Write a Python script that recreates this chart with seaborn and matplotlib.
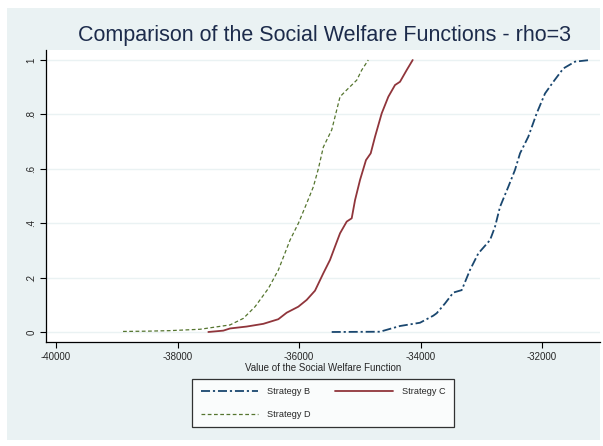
import matplotlib
matplotlib.use("Agg")
import matplotlib.pyplot as plt
import seaborn as sns
from matplotlib.patches import Rectangle

# empirical distribution of the social welfare function per strategy
strat_b_x = [-35462, -34667, -34338, -34064, -34009, -33790, -33734, -33597, -33460,
             -33322, -33186, -33049, -32856, -32774, -32692, -32555, -32445, -32362,
             -32226, -32088, -31951, -31814, -31649, -31457, -31210]
strat_b_y = [0.0, 0.001, 0.022, 0.032, 0.034, 0.060, 0.069, 0.105, 0.145,
             0.154, 0.228, 0.289, 0.338, 0.387, 0.46, 0.534, 0.596, 0.657,
             0.718, 0.804, 0.877, 0.92, 0.969, 0.994, 1.0]

strat_c_x = [-37493, -37246, -37136, -36862, -36588, -36341, -36203, -36012, -35874,
             -35737, -35600, -35490, -35408, -35325, -35215, -35133, -35078, -34996,
             -34898, -34820, -34749, -34639, -34530, -34420, -34338, -34228, -34129]
strat_c_y = [0.0, 0.005, 0.013, 0.02, 0.03, 0.047, 0.071, 0.093, 0.118,
             0.152, 0.216, 0.265, 0.314, 0.363, 0.406, 0.418, 0.485, 0.559,
             0.632, 0.657, 0.718, 0.804, 0.865, 0.908, 0.92, 0.963, 1.0]

strat_d_x = [-38897, -38500, -38124, -37630, -37136, -36917, -36724, -36505, -36340,
             -36148, -36010, -35874, -35764, -35682, -35600, -35462, -35380, -35325,
             -35215, -35050, -34968, -34860]
strat_d_y = [0.002, 0.003, 0.005, 0.01, 0.026, 0.05, 0.093, 0.16, 0.228,
             0.338, 0.40, 0.473, 0.534, 0.60, 0.68, 0.743, 0.816, 0.865,
             0.89, 0.926, 0.963, 1.0]

x_ticks = [-40000, -38000, -36000, -34000, -32000]
y_ticks = [0, 0.2, 0.4, 0.6, 0.8, 1.0]
y_ticklabels = ["0", ".2", ".4", ".6", ".8", "1"]

sns.set_style("white")
plt.rcParams["font.family"] = ["Liberation Sans", "DejaVu Sans"]

bg = "#eaf2f3"
fig = plt.figure(figsize=(6.03, 4.46), dpi=100)
fig.patches.append(Rectangle((7 / 603, 1 - 440 / 446), 593 / 603, 432 / 446,
                             transform=fig.transFigure, facecolor=bg, edgecolor="none", zorder=-10))
ax = fig.add_axes([46 / 603, 1 - 342 / 446, 554 / 603, 292 / 446])
ax.set_facecolor("white")

sns.lineplot(x=strat_b_x, y=strat_b_y, ax=ax, color="#1a476f", linewidth=1.3,
             estimator=None, sort=False, label="Strategy B",
             dashes=False, linestyle=(0, (5, 1.6, 1.2, 1.6)))
sns.lineplot(x=strat_c_x, y=strat_c_y, ax=ax, color="#90353b", linewidth=1.3,
             estimator=None, sort=False, label="Strategy C")
sns.lineplot(x=strat_d_x, y=strat_d_y, ax=ax, color="#55752f", linewidth=0.9,
             estimator=None, sort=False, label="Strategy D",
             linestyle=(0, (3, 2)))

ax.set_xlim(-40165, -31046)
ax.set_ylim(-0.0368, 1.0368)
ax.set_xticks(x_ticks)
ax.set_xticklabels([str(v) for v in x_ticks])
ax.set_yticks(y_ticks)
ax.set_yticklabels(y_ticklabels, rotation=90, va="center")
ax.tick_params(axis="both", direction="out", length=4, width=0.8, color="black",
               labelsize=7, pad=3, bottom=True, left=True)
ax.yaxis.grid(True, color=bg, linewidth=1)
ax.xaxis.grid(False)
for side in ["top", "right"]:
    ax.spines[side].set_visible(False)
for side in ["left", "bottom"]:
    ax.spines[side].set_color("black")
    ax.spines[side].set_linewidth(0.9)

ax.set_xlabel("Value of the Social Welfare Function", fontsize=7, labelpad=1)
ax.set_ylabel("")
fig.text(325 / 603, 1 - 36 / 446, "Comparison of the Social Welfare Functions - rho=3",
         ha="center", va="center", fontsize=15.5, color="#1c2b4b")

h, l = ax.get_legend_handles_labels()
order = [0, 2, 1]
leg = ax.legend([h[i] for i in order], [l[i] for i in order], ncol=2,
                loc="upper center", bbox_to_anchor=(323 / 603, 1 - 379 / 446),
                bbox_transform=fig.transFigure, fontsize=6.6, frameon=True,
                fancybox=False, edgecolor="black", handlelength=6.3,
                columnspacing=2.6, handletextpad=1.0, borderpad=0.9,
                labelspacing=1.5, borderaxespad=0)
leg.get_frame().set_linewidth(0.9)
leg.get_frame().set_facecolor("white")

fig.savefig("out.png", dpi=100)
